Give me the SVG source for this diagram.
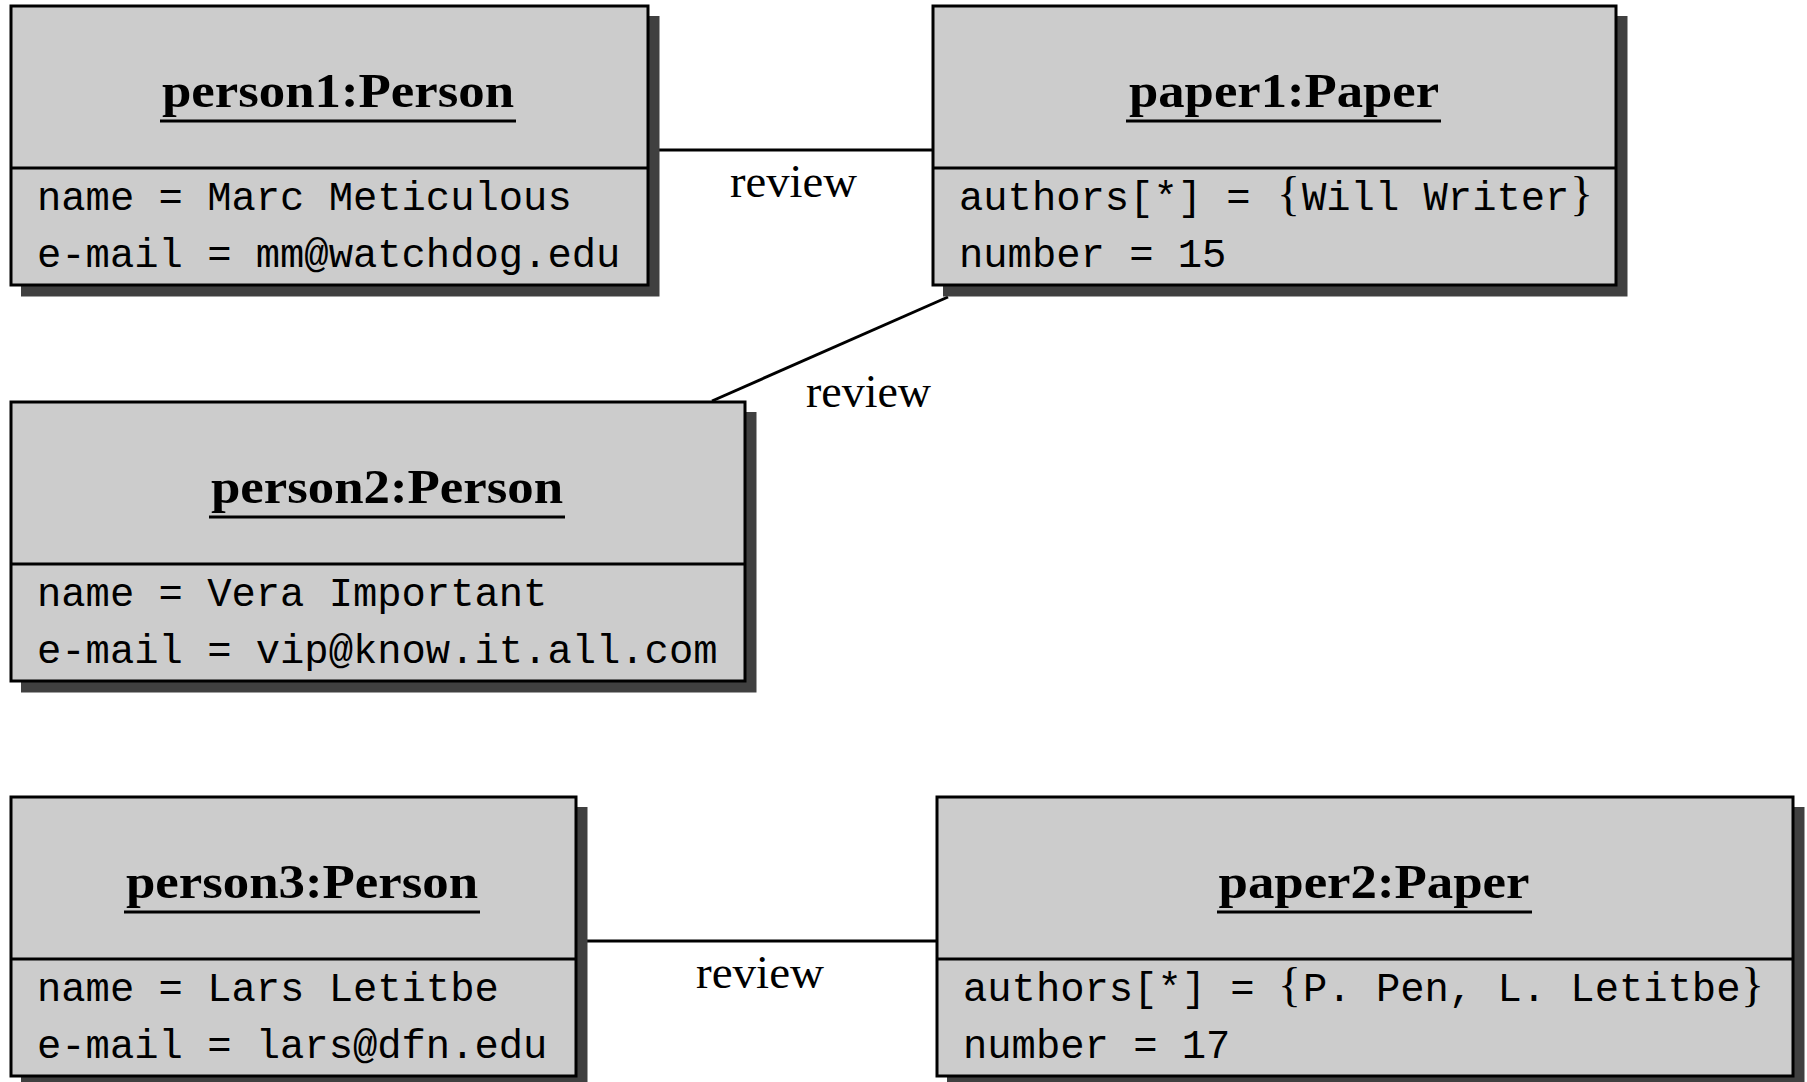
<svg xmlns="http://www.w3.org/2000/svg" width="1807" height="1082" viewBox="0 0 1807 1082">
<style>
.shadow{fill:#404040;stroke:none}
.box{fill:#cccccc;stroke:#000;stroke-width:3}
.div{stroke:#000;stroke-width:3}
.ul{stroke:#000;stroke-width:3}
.title{font-family:"Liberation Serif",serif;font-weight:bold;font-size:48px;fill:#000}
.attr{font-family:"Liberation Mono",monospace;font-size:40.5px;fill:#000}
.brace{font-family:"Liberation Serif",serif;font-size:48px;fill:#000}
.lbl{font-family:"Liberation Serif",serif;font-size:46px;fill:#000}
.conn{stroke:#000;stroke-width:3;fill:none}
</style>
<rect width="1807" height="1082" fill="#fff"/>
<g id="connectors">
<line class="conn" x1="659" y1="150" x2="933" y2="150"/>
<line class="conn" x1="948" y1="297" x2="712" y2="401"/>
<line class="conn" x1="586" y1="941" x2="937" y2="941"/>
<text class="lbl" x="793.5" y="197" text-anchor="middle" textLength="127" lengthAdjust="spacingAndGlyphs">review</text>
<text class="lbl" x="868.5" y="407" text-anchor="middle" textLength="125" lengthAdjust="spacingAndGlyphs">review</text>
<text class="lbl" x="760" y="988" text-anchor="middle" textLength="128" lengthAdjust="spacingAndGlyphs">review</text>
</g>
<g id="person1">
<rect class="shadow" x="21" y="16" width="638.5" height="280.5"/>
<rect class="box" x="11" y="6" width="637" height="279"/>
<line class="div" x1="11" y1="168" x2="648" y2="168"/>
<text class="title" x="338" y="107" text-anchor="middle" textLength="352" lengthAdjust="spacingAndGlyphs">person1:Person</text>
<line class="ul" x1="160" y1="121" x2="516" y2="121"/>
<text class="attr" x="37" y="210">name = Marc Meticulous</text>
<text class="attr" x="37" y="267">e-mail = mm@watchdog.edu</text>
</g>
<g id="paper1">
<rect class="shadow" x="943" y="16" width="684.5" height="280.5"/>
<rect class="box" x="933" y="6" width="683" height="279"/>
<line class="div" x1="933" y1="168" x2="1616" y2="168"/>
<text class="title" x="1284" y="107" text-anchor="middle" textLength="310" lengthAdjust="spacingAndGlyphs">paper1:Paper</text>
<line class="ul" x1="1126" y1="121" x2="1441" y2="121"/>
<text class="attr" x="959" y="210">authors[*] =</text>
<text class="brace" x="1300" y="210" text-anchor="end">{</text>
<text class="attr" x="1302" y="210">Will Writer</text>
<text class="brace" x="1570" y="210">}</text>
<text class="attr" x="959" y="267">number = 15</text>
</g>
<g id="person2">
<rect class="shadow" x="21" y="412" width="735.5" height="280.5"/>
<rect class="box" x="11" y="402" width="734" height="279"/>
<line class="div" x1="11" y1="564" x2="745" y2="564"/>
<text class="title" x="387" y="503" text-anchor="middle" textLength="352" lengthAdjust="spacingAndGlyphs">person2:Person</text>
<line class="ul" x1="209" y1="517" x2="565" y2="517"/>
<text class="attr" x="37" y="606">name = Vera Important</text>
<text class="attr" x="37" y="663">e-mail = vip@know.it.all.com</text>
</g>
<g id="person3">
<rect class="shadow" x="21" y="807" width="566.5" height="280.5"/>
<rect class="box" x="11" y="797" width="565" height="279"/>
<line class="div" x1="11" y1="959" x2="576" y2="959"/>
<text class="title" x="302" y="898" text-anchor="middle" textLength="352" lengthAdjust="spacingAndGlyphs">person3:Person</text>
<line class="ul" x1="124" y1="912" x2="480" y2="912"/>
<text class="attr" x="37" y="1001">name = Lars Letitbe</text>
<text class="attr" x="37" y="1058">e-mail = lars@dfn.edu</text>
</g>
<g id="paper2">
<rect class="shadow" x="947" y="807" width="857.5" height="280.5"/>
<rect class="box" x="937" y="797" width="856" height="279"/>
<line class="div" x1="937" y1="959" x2="1793" y2="959"/>
<text class="title" x="1374" y="898" text-anchor="middle" textLength="311" lengthAdjust="spacingAndGlyphs">paper2:Paper</text>
<line class="ul" x1="1217" y1="912" x2="1532" y2="912"/>
<text class="attr" x="963" y="1001">authors[*] =</text>
<text class="brace" x="1301" y="1001" text-anchor="end">{</text>
<text class="attr" x="1303" y="1001">P. Pen, L. Letitbe</text>
<text class="brace" x="1741" y="1001">}</text>
<text class="attr" x="963" y="1058">number = 17</text>
</g>
</svg>
